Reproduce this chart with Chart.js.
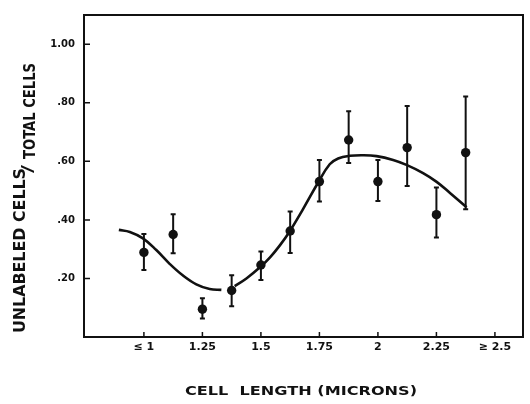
<!DOCTYPE html>
<html>
<head>
<meta charset="utf-8">
<script src="https://cdn.jsdelivr.net/npm/chart.js@4.4.1/dist/chart.umd.min.js"></script>
<style>
  body { margin: 0; background: #fff; }
  canvas { display: block; }
</style>
</head>
<body>
<canvas id="chart" width="530" height="404"></canvas>
<script>
// cell length classes (microns) and measured ratio with error bars
const cellLength = [1, 1.125, 1.25, 1.375, 1.5, 1.625, 1.75, 1.875, 2, 2.125, 2.25, 2.375];
const ratio = [0.289, 0.350, 0.095, 0.159, 0.246, 0.362, 0.531, 0.673, 0.531, 0.647, 0.418, 0.630];
const errTop = [0.352, 0.419, 0.132, 0.211, 0.292, 0.429, 0.605, 0.771, 0.605, 0.789, 0.511, 0.822];
const errBottom = [0.229, 0.286, 0.063, 0.105, 0.195, 0.287, 0.463, 0.594, 0.465, 0.516, 0.340, 0.436];

// fitted curve (broken where it meets the 1.375 point)
const curveLeftX = [0.893, 0.94, 0.996, 1.053, 1.11, 1.167, 1.224, 1.281, 1.331];
const curveLeftY = [0.366, 0.359, 0.337, 0.297, 0.250, 0.210, 0.180, 0.164, 0.161];
const curveRightX = [1.388, 1.438, 1.496, 1.539, 1.581, 1.62, 1.68, 1.744, 1.794, 1.83, 1.88, 1.937, 1.994, 2.065, 2.122, 2.193, 2.251, 2.308, 2.379];
const curveRightY = [0.174, 0.200, 0.238, 0.272, 0.313, 0.357, 0.437, 0.527, 0.590, 0.610, 0.619, 0.621, 0.618, 0.605, 0.588, 0.560, 0.530, 0.492, 0.443];

const xTickValues = [1, 1.25, 1.5, 1.75, 2, 2.25, 2.5];
const xTickLabels = ['\u2264 1', '1.25', '1.5', '1.75', '2', '2.25', '\u2265 2.5'];
const yTickValues = [0.2, 0.4, 0.6, 0.8, 1.0];
const yTickLabels = ['.20', '.40', '.60', '.80', '1.00'];

const ink = '#111';
const toXY = (xs, ys) => xs.map((x, i) => ({ x: x, y: ys[i] }));

// frame, inward ticks, error bars and axis titles
const decorations = {
  id: 'decorations',
  beforeDatasetsDraw(chart) {
    const { ctx, chartArea: a, scales } = chart;
    ctx.save();
    ctx.strokeStyle = ink;
    ctx.lineWidth = 2;
    ctx.strokeRect(a.left, a.top, a.right - a.left, a.bottom - a.top);

    ctx.lineWidth = 1.5;
    ctx.beginPath();
    xTickValues.forEach(v => {
      const px = scales.x.getPixelForValue(v);
      ctx.moveTo(px, a.bottom);
      ctx.lineTo(px, a.bottom - 5);
    });
    yTickValues.forEach(v => {
      const py = scales.y.getPixelForValue(v);
      ctx.moveTo(a.left, py);
      ctx.lineTo(a.left + 6, py);
    });
    ctx.stroke();

    ctx.lineWidth = 2;
    ctx.beginPath();
    cellLength.forEach((x, i) => {
      const px = scales.x.getPixelForValue(x);
      const top = scales.y.getPixelForValue(errTop[i]);
      const bot = scales.y.getPixelForValue(errBottom[i]);
      ctx.moveTo(px, top);
      ctx.lineTo(px, bot);
      ctx.moveTo(px - 2.5, top);
      ctx.lineTo(px + 2.5, top);
      ctx.moveTo(px - 2.5, bot);
      ctx.lineTo(px + 2.5, bot);
    });
    ctx.stroke();
    ctx.restore();
  },
  afterDraw(chart) {
    const { ctx } = chart;
    ctx.save();
    ctx.fillStyle = ink;
    ctx.font = 'bold 16px "DejaVu Sans"';
    ctx.textBaseline = 'alphabetic';
    const fitText = (text, x, y, width) => {
      const w = ctx.measureText(text).width;
      ctx.save();
      ctx.translate(x, y);
      ctx.scale(width / w, 1);
      ctx.fillText(text, 0, 0);
      ctx.restore();
    };
    // y title, rotated, with the "/ TOTAL CELLS" part set lower
    ctx.save();
    ctx.rotate(-Math.PI / 2);
    fitText('UNLABELED CELLS', -333, 25, 165);
    fitText('/', -173, 33, 8);
    fitText('TOTAL CELLS', -159, 35, 96);
    ctx.restore();

    // x title
    ctx.font = 'bold 13px "DejaVu Sans"';
    ctx.textBaseline = 'middle';
    fitText('CELL  LENGTH (MICRONS)', 185, 392, 232);
    ctx.restore();
  }
};

const curveStyle = {
  showLine: true,
  pointRadius: 0,
  borderColor: ink,
  borderWidth: 2.6,
  tension: 0.4,
  order: 1
};

new Chart(document.getElementById('chart'), {
  type: 'scatter',
  data: {
    datasets: [
      {
        label: 'measured',
        data: toXY(cellLength, ratio),
        pointRadius: 4.7,
        pointHoverRadius: 4.7,
        backgroundColor: ink,
        borderColor: ink,
        borderWidth: 0,
        showLine: false,
        order: 0
      },
      Object.assign({ label: 'fit', data: toXY(curveLeftX, curveLeftY) }, curveStyle),
      Object.assign({ label: 'fit2', data: toXY(curveRightX, curveRightY) }, curveStyle)
    ]
  },
  options: {
    responsive: false,
    animation: false,
    devicePixelRatio: 1,
    layout: { padding: { top: 9, right: 7, left: 0, bottom: 0 } },
    plugins: {
      legend: { display: false },
      tooltip: { enabled: false }
    },
    scales: {
      x: {
        type: 'linear',
        min: 0.744,
        max: 2.62,
        grid: { display: false, drawTicks: false },
        border: { display: false },
        afterBuildTicks: (scale) => { scale.ticks = xTickValues.map(v => ({ value: v })); },
        afterFit: (scale) => { scale.height = 67; },
        ticks: {
          color: ink,
          padding: 4,
          font: { family: 'DejaVu Sans', size: 11, weight: 'bold' },
          maxRotation: 0,
          autoSkip: false,
          callback: (value, index) => xTickLabels[index]
        }
      },
      y: {
        type: 'linear',
        min: 0,
        max: 1.1,
        grid: { display: false, drawTicks: false },
        border: { display: false },
        afterBuildTicks: (scale) => { scale.ticks = yTickValues.map(v => ({ value: v })); },
        afterFit: (scale) => { scale.width = 84; },
        ticks: {
          color: ink,
          padding: 9,
          font: { family: 'DejaVu Sans', size: 10, weight: 'bold' },
          autoSkip: false,
          callback: (value, index) => yTickLabels[index]
        }
      }
    }
  },
  plugins: [decorations]
});
</script>
</body>
</html>
